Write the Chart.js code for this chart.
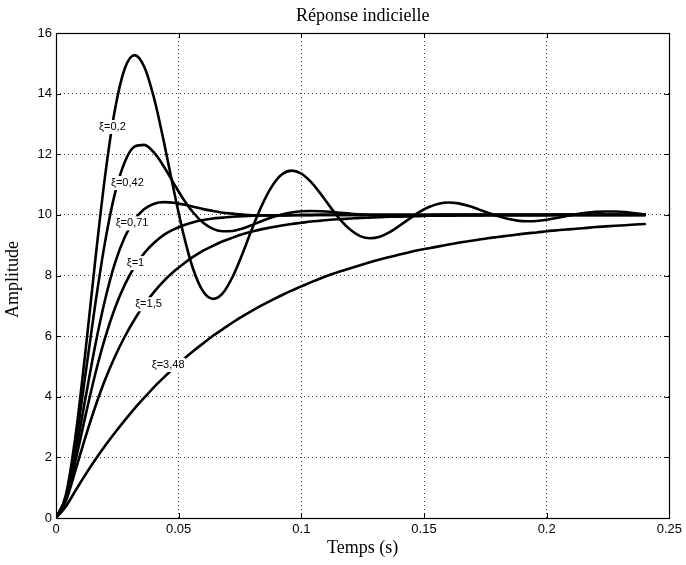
<!DOCTYPE html>
<html>
<head>
<meta charset="utf-8">
<script src="https://cdn.jsdelivr.net/npm/chart.js@4.4.1/dist/chart.umd.min.js"></script>
<style>
  html, body { margin: 0; padding: 0; background: #fff; }
  #wrap { width: 686px; height: 565px; position: relative; }
</style>
</head>
<body>
<div id="wrap"><canvas id="c" width="686" height="565"></canvas></div>
<script>
// ---- data ----
const times = [0, 0.004, 0.008, 0.012, 0.016, 0.02, 0.024, 0.028, 0.032, 0.036,
  0.04, 0.044, 0.048, 0.052, 0.056, 0.06, 0.064, 0.068, 0.072, 0.076,
  0.08, 0.084, 0.088, 0.092, 0.096, 0.1, 0.104, 0.108, 0.112, 0.116,
  0.12, 0.124, 0.128, 0.132, 0.136, 0.14, 0.144, 0.148, 0.152, 0.156,
  0.16, 0.164, 0.168, 0.172, 0.176, 0.18, 0.184, 0.188, 0.192, 0.196,
  0.2, 0.204, 0.208, 0.212, 0.216, 0.22, 0.224, 0.228, 0.232, 0.236, 0.24];

const xi020 = [0, 0.75, 2.74, 5.49, 8.50, 11.28, 13.46, 14.82, 15.27, 14.88,
  13.84, 12.40, 10.82, 9.35, 8.19, 7.47, 7.23, 7.42, 7.96, 8.72,
  9.56, 10.33, 10.94, 11.33, 11.46, 11.36, 11.08, 10.68, 10.24, 9.83,
  9.51, 9.30, 9.23, 9.28, 9.43, 9.64, 9.87, 10.09, 10.26, 10.37,
  10.41, 10.38, 10.30, 10.19, 10.07, 9.96, 9.87, 9.81, 9.79, 9.80,
  9.84, 9.90, 9.96, 10.02, 10.07, 10.10, 10.11, 10.11, 10.09, 10.05, 10.02];

const xi042 = [0, 0.71, 2.46, 4.73, 7.05, 9.11, 10.70, 11.74, 12.25, 12.31,
  12.05, 11.59, 11.04, 10.51, 10.07, 9.74, 9.54, 9.46, 9.47, 9.55,
  9.67, 9.80, 9.92, 10.01, 10.08, 10.12, 10.13, 10.12, 10.10, 10.07,
  10.04, 10.01, 9.99, 9.98, 9.97, 9.97, 9.98, 9.98, 9.99, 10.0,
  10.0, 10.0, 10.0, 10.0, 10.0, 10.0, 10.0, 10.0, 10.0, 10.0,
  10.0, 10.0, 10.0, 10.0, 10.0, 10.0, 10.0, 10.0, 10.0, 10.0, 10.0];

const xi071 = [0, 0.66, 2.16, 3.95, 5.70, 7.20, 8.40, 9.26, 9.84, 10.19,
  10.37, 10.42, 10.40, 10.34, 10.27, 10.19, 10.13, 10.07, 10.04, 10.01,
  9.99, 9.99, 9.98, 9.98, 9.99, 9.99, 9.99, 10.0, 10.0, 10.0,
  10.0, 10.0, 10.0, 10.0, 10.0, 10.0, 10.0, 10.0, 10.0, 10.0,
  10.0, 10.0, 10.0, 10.0, 10.0, 10.0, 10.0, 10.0, 10.0, 10.0,
  10.0, 10.0, 10.0, 10.0, 10.0, 10.0, 10.0, 10.0, 10.0, 10.0, 10.0];

const xi100 = [0, 0.62, 1.91, 3.37, 4.75, 5.94, 6.92, 7.69, 8.29, 8.74,
  9.08, 9.34, 9.52, 9.66, 9.76, 9.83, 9.88, 9.91, 9.94, 9.96,
  9.97, 9.98, 9.99, 9.99, 9.99, 10.0, 10.0, 10.0, 10.0, 10.0,
  10.0, 10.0, 10.0, 10.0, 10.0, 10.0, 10.0, 10.0, 10.0, 10.0,
  10.0, 10.0, 10.0, 10.0, 10.0, 10.0, 10.0, 10.0, 10.0, 10.0,
  10.0, 10.0, 10.0, 10.0, 10.0, 10.0, 10.0, 10.0, 10.0, 10.0, 10.0];

const xi150 = [0, 0.55, 1.59, 2.67, 3.67, 4.56, 5.32, 5.98, 6.55, 7.04,
  7.46, 7.82, 8.13, 8.39, 8.62, 8.82, 8.98, 9.13, 9.25, 9.36,
  9.45, 9.53, 9.59, 9.65, 9.70, 9.74, 9.78, 9.81, 9.84, 9.86,
  9.88, 9.90, 9.91, 9.92, 9.94, 9.94, 9.95, 9.96, 9.97, 9.97,
  9.97, 9.98, 9.98, 9.98, 9.99, 9.99, 9.99, 9.99, 9.99, 9.99,
  9.99, 10.0, 10.0, 10.0, 10.0, 10.0, 10.0, 10.0, 10.0, 10.0, 10.0];

const xi348 = [0, 0.38, 0.91, 1.43, 1.92, 2.38, 2.81, 3.22, 3.61, 3.97,
  4.32, 4.64, 4.95, 5.24, 5.51, 5.76, 6.01, 6.23, 6.45, 6.65,
  6.84, 7.02, 7.19, 7.35, 7.50, 7.64, 7.78, 7.91, 8.03, 8.14,
  8.24, 8.34, 8.44, 8.53, 8.61, 8.69, 8.77, 8.84, 8.90, 8.96,
  9.02, 9.08, 9.13, 9.18, 9.23, 9.27, 9.31, 9.35, 9.39, 9.42,
  9.46, 9.49, 9.52, 9.54, 9.57, 9.60, 9.62, 9.64, 9.66, 9.68, 9.70];

const seriesNames = ['ξ=0,2', 'ξ=0,42', 'ξ=0,71', 'ξ=1', 'ξ=1,5', 'ξ=3,48'];
const seriesValues = [xi020, xi042, xi071, xi100, xi150, xi348];

// curve label anchors (data coordinates)
const labelT = [0.0230, 0.0291, 0.0310, 0.0324, 0.0377, 0.0457];
const labelV = [12.9, 11.05, 9.72, 8.41, 7.05, 5.05];

const xTickValues = [0, 0.05, 0.1, 0.15, 0.2, 0.25];
const xTickLabels = ['0', '0.05', '0.1', '0.15', '0.2', '0.25'];
const yTickLabels = ['0', '2', '4', '6', '8', '10', '12', '14', '16'];

const titleText = 'Réponse indicielle';
const xTitle = 'Temps (s)';
const yTitle = 'Amplitude';

// ---- chart ----
const datasets = seriesValues.map((vals, i) => ({
  label: seriesNames[i],
  data: times.map((t, j) => ({ x: t, y: vals[j] })),
  borderColor: '#000',
  borderWidth: 2.6,
  pointRadius: 0,
  fill: false,
  cubicInterpolationMode: 'monotone',
  borderCapStyle: 'round',
  borderJoinStyle: 'round'
}));

const decorPlugin = {
  id: 'decor',
  afterDatasetsDraw(chart) {
    const { ctx, scales: { x, y } } = chart;
    ctx.save();
    ctx.font = '11px "Liberation Sans", Arial, sans-serif';
    ctx.textAlign = 'center';
    ctx.textBaseline = 'middle';
    seriesNames.forEach((txt, i) => {
      const px = x.getPixelForValue(labelT[i]);
      const py = y.getPixelForValue(labelV[i]);
      const w = ctx.measureText(txt).width;
      ctx.fillStyle = '#fff';
      ctx.fillRect(px - w / 2 - 1, py - 7, w + 2, 14);
      ctx.fillStyle = '#000';
      ctx.fillText(txt, px, py);
    });
    ctx.restore();
  },
  afterDraw(chart) {
    const { ctx, chartArea: a, scales: { x, y } } = chart;
    ctx.save();
    // inward tick marks on all four sides
    ctx.strokeStyle = '#000';
    ctx.lineWidth = 1;
    ctx.beginPath();
    const tl = 5;
    x.ticks.forEach(t => {
      const px = Math.round(x.getPixelForValue(t.value)) + 0.5;
      ctx.moveTo(px, a.bottom); ctx.lineTo(px, a.bottom - tl);
      ctx.moveTo(px, a.top); ctx.lineTo(px, a.top + tl);
    });
    y.ticks.forEach(t => {
      const py = Math.round(y.getPixelForValue(t.value)) + 0.5;
      ctx.moveTo(a.left, py); ctx.lineTo(a.left + tl, py);
      ctx.moveTo(a.right, py); ctx.lineTo(a.right - tl, py);
    });
    ctx.stroke();
    // box
    ctx.lineWidth = 1.2;
    ctx.strokeRect(Math.round(a.left) + 0.5, Math.round(a.top) + 0.5,
                   Math.round(a.right - a.left), Math.round(a.bottom - a.top));
    // texts
    ctx.fillStyle = '#000';
    ctx.textAlign = 'center';
    ctx.font = '18px "Liberation Serif", "Times New Roman", serif';
    ctx.textBaseline = 'alphabetic';
    ctx.fillText(titleText, (a.left + a.right) / 2, 21);
    ctx.font = '18px "Liberation Serif", "Times New Roman", serif';
    ctx.textBaseline = 'middle';
    ctx.fillText(xTitle, (a.left + a.right) / 2, 548);
    ctx.translate(13, (a.top + a.bottom) / 2 + 4);
    ctx.rotate(-Math.PI / 2);
    ctx.fillText(yTitle, 0, 0);
    ctx.restore();
  }
};

new Chart(document.getElementById('c'), {
  type: 'line',
  data: { datasets },
  options: {
    responsive: false,
    animation: false,
    events: [],
    layout: { padding: { top: 33, right: 15, left: 0, bottom: 0 } },
    plugins: { legend: { display: false }, tooltip: { enabled: false }, title: { display: false } },
    scales: {
      x: {
        type: 'linear',
        min: 0, max: 0.25,
        afterBuildTicks(scale) { scale.ticks = xTickValues.map(v => ({ value: v })); },
        afterFit(scale) { scale.height = 47; },
        ticks: {
          autoSkip: false,
          maxRotation: 0,
          padding: 4,
          color: '#000',
          font: { family: '"Liberation Sans", Arial, sans-serif', size: 13 },
          callback: (v, i) => xTickLabels[i]
        },
        grid: {
          drawTicks: false,
          color: 'rgba(0,0,0,0.75)',
          lineWidth: 1
        },
        border: { display: false, dash: [1, 3] }
      },
      y: {
        type: 'linear',
        min: 0, max: 16,
        afterFit(scale) { scale.width = 56; },
        ticks: {
          stepSize: 2,
          padding: 4,
          color: '#000',
          font: { family: '"Liberation Sans", Arial, sans-serif', size: 13 },
          callback: (v, i) => yTickLabels[i]
        },
        grid: {
          drawTicks: false,
          color: 'rgba(0,0,0,0.75)',
          lineWidth: 1
        },
        border: { display: false, dash: [1, 3] }
      }
    }
  },
  plugins: [decorPlugin]
});
</script>
</body>
</html>
